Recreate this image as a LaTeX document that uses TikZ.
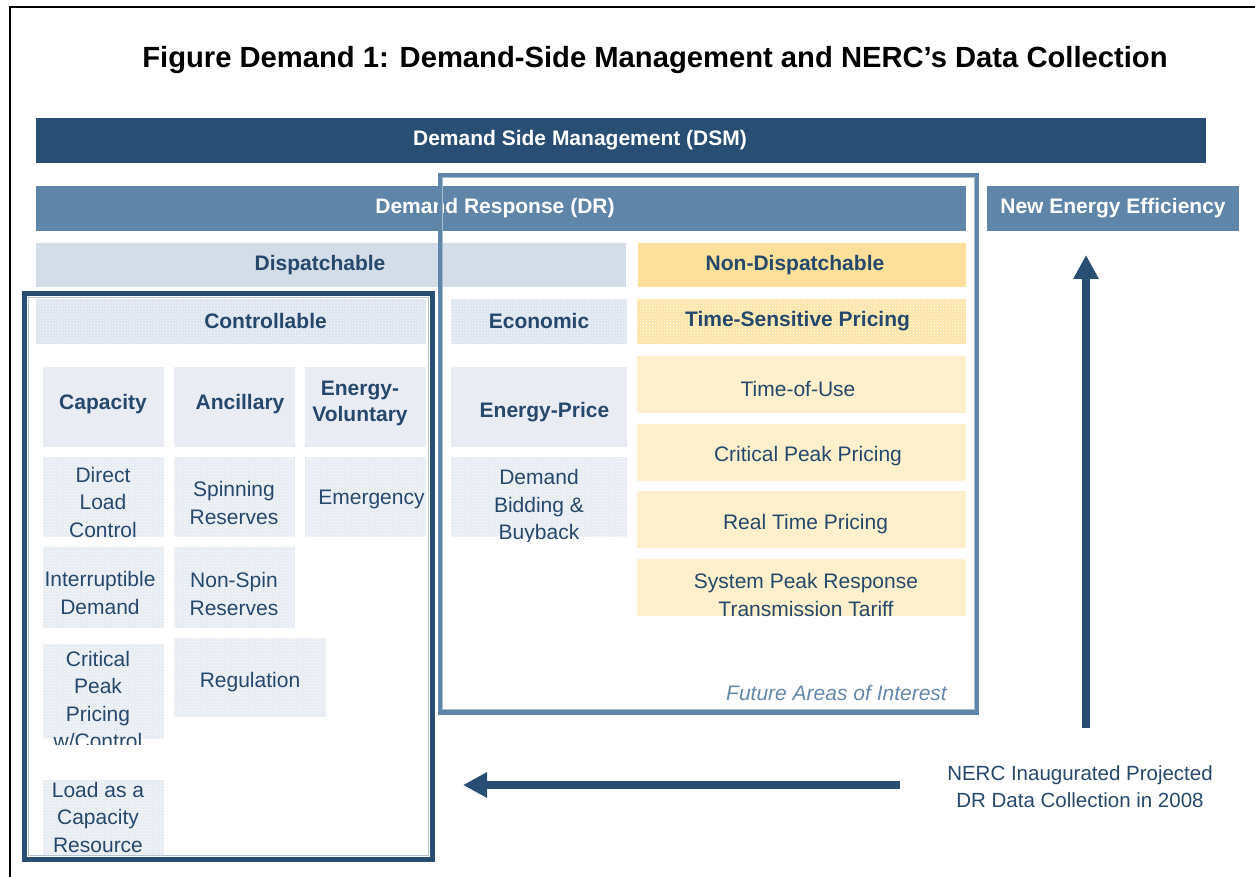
\documentclass[tikz,border=0pt]{standalone}
\usepackage{fontspec}
\setmainfont{Liberation Sans}
\usetikzlibrary{arrows.meta,patterns}
\definecolor{dsmblue}{RGB}{40,78,116}
\definecolor{drblue}{RGB}{95,133,168}
\definecolor{dispgray}{RGB}{211,221,232}
\definecolor{ctrlgray}{RGB}{220,228,238}
\definecolor{hdrgray}{RGB}{233,237,243}
\definecolor{detgray}{RGB}{231,236,243}
\definecolor{ndyellow}{RGB}{253,224,155}
\definecolor{tspyellow}{RGB}{253,228,166}
\definecolor{itemyellow}{RGB}{254,240,205}
\definecolor{txtblue}{RGB}{38,72,108}
\definecolor{futblue}{RGB}{100,135,170}
\newcommand{\mkbox}[6]{\node[box,#6,minimum width={#4-#2},minimum height={#5-#3}] (#1) at (#2,#3) {};}
\begin{document}
\begin{tikzpicture}[x=1pt,y=-1pt,
  box/.style={inner sep=0pt,outer sep=0pt,anchor=north west,draw=none},
  dotbox/.style={postaction={pattern=crosshatch dots,pattern color=white}},
  txt/.style={text=txtblue,font=\fontsize{21}{27.5}\selectfont,align=center,inner sep=0pt,yshift=-2pt},
  btxt/.style={text=txtblue,font=\fontsize{21}{26}\selectfont\bfseries,align=center,inner sep=0pt,yshift=-2pt},
  wtxt/.style={text=white,font=\fontsize{21}{26}\selectfont\bfseries,align=center,inner sep=0pt,yshift=-2pt},
  arr/.style={draw=dsmblue,line width=8pt,-{Triangle[length=24pt,width=24pt]}},
  frame/.style={box,fill=none}]
\useasboundingbox (0,0) rectangle (1255,877);
\clip (0,0) rectangle (1255,877);
% outer frame
\draw[line width=1.5pt,black] (10,900) -- (10,7) -- (1300,7);
% title
\node[inner sep=0pt,font=\fontsize{29.2}{34}\selectfont\bfseries] (title) at (655,60) {Figure Demand 1: Demand-Side Management and NERC’s Data Collection};
% bars
\mkbox{dsm}{36}{118}{1206}{163}{fill=dsmblue}
\mkbox{dr}{36}{186}{966}{231}{fill=drblue}
\mkbox{nee}{987}{186}{1239}{231}{fill=drblue}
\mkbox{disp}{36}{243}{626}{287}{fill=dispgray}
\mkbox{ndisp}{638}{243}{966}{287}{fill=ndyellow}
\mkbox{ctrl}{36}{299}{426}{344}{fill=ctrlgray,dotbox}
\mkbox{econ}{451}{299}{627}{344}{fill=ctrlgray,dotbox}
\mkbox{tsp}{637}{299}{966}{344}{fill=tspyellow,dotbox}
\mkbox{cap}{43}{367}{164}{447}{fill=hdrgray}
\mkbox{anc}{174}{367}{295}{447}{fill=hdrgray}
\mkbox{envol}{305}{367}{426}{447}{fill=hdrgray}
\mkbox{enpr}{451}{367}{627}{447}{fill=hdrgray}
\mkbox{tou}{637}{356}{966}{413}{fill=itemyellow}
\mkbox{cpp}{637}{424}{966}{481}{fill=itemyellow}
\mkbox{rtp}{637}{491}{966}{548}{fill=itemyellow}
\mkbox{spr}{637}{559}{966}{616}{fill=itemyellow}
\mkbox{dlc}{43}{457}{164}{537}{fill=detgray,dotbox}
\mkbox{spin}{174}{457}{295}{537}{fill=detgray,dotbox}
\mkbox{emer}{305}{457}{426}{537}{fill=detgray,dotbox}
\mkbox{intd}{43}{547}{164}{628}{fill=detgray,dotbox}
\mkbox{nspin}{174}{547}{295}{628}{fill=detgray,dotbox}
\mkbox{cppc}{43}{644}{164}{739}{fill=detgray,dotbox}
\mkbox{reg}{174}{638}{326}{717}{fill=detgray,dotbox}
\mkbox{lacr}{43}{780}{164}{856}{fill=detgray,dotbox}
\mkbox{dbb}{451}{457}{627}{537}{fill=detgray,dotbox}
% texts
\node[wtxt] (t-dsm) at (580,138) {Demand Side Management (DSM)};
\node[wtxt] (t-dr) at (495,206) {Demand Response (DR)};
\node[wtxt] (t-nee) at (1113,206) {New Energy Efficiency};
\node[btxt] (t-disp) at (320,263) {Dispatchable};
\node[btxt] (t-ndisp) at (795,263) {Non-Dispatchable};
\node[btxt] (t-ctrl) at (265.5,319) {Controllable};
\node[btxt] (t-econ) at (539,319) {Economic};
\node[btxt] (t-tsp) at (797.5,319) {Time-Sensitive Pricing};
\node[btxt] (t-cap) at (103,402) {Capacity};
\node[btxt] (t-anc) at (240,402) {Ancillary};
\node[btxt] (t-envol) at (360,401) {Energy-\\Voluntary};
\node[btxt] (t-enpr) at (544.5,410) {Energy-Price};
\node[txt] (t-tou) at (798,387) {Time-of-Use};
\node[txt] (t-cpp) at (808,454) {Critical Peak Pricing};
\node[txt] (t-rtp) at (805.5,522) {Real Time Pricing};
\begin{scope}
\clip (637,559) rectangle (966,617);
\node[txt] (t-spr) at (806,593) {System Peak Response\\Transmission Tariff};
\end{scope}
\node[txt] (t-dlc) at (103,500) {Direct\\Load\\Control};
\node[txt] (t-spin) at (234,501) {Spinning\\Reserves};
\node[txt] (t-emer) at (371.5,497) {Emergency};
\node[txt] (t-intd) at (100,591) {Interruptible\\Demand};
\node[txt] (t-nspin) at (234,592) {Non-Spin\\Reserves};
\begin{scope}
\clip (30,640) rectangle (170,744);
\node[txt] (t-cppc) at (98,698) {Critical\\Peak\\Pricing\\w/Control};
\end{scope}
\node[txt] (t-reg) at (250,680) {Regulation};
\node[txt] (t-lacr) at (98,815) {Load as a\\Capacity\\Resource};
\begin{scope}
\clip (445,450) rectangle (630,541);
\node[txt] (t-dbb) at (539,505) {Demand\\Bidding \&\\Buyback};
\end{scope}
% frames
\mkbox{fut}{440}{175.5}{976.5}{712}{frame,draw=drblue,line width=5pt}
\mkbox{futin}{442.2}{177.7}{974.3}{709.8}{frame,draw=drblue!55,line width=0.8pt}
\mkbox{ctrlframe}{24.5}{293}{432}{859}{frame,draw=dsmblue,line width=5pt}
\mkbox{ctrlin}{28.5}{297}{428}{855}{frame,draw=dsmblue!35,line width=0.8pt}
\node[anchor=east,inner sep=0pt,text=futblue,font=\fontsize{21}{26}\selectfont\itshape,yshift=-2pt] (t-fut) at (947,691) {Future Areas of Interest};
% NERC note and arrows
\node[txt,font=\fontsize{20.5}{27}\selectfont] (nerc) at (1080,784.5) {NERC Inaugurated Projected\\DR Data Collection in 2008};
\coordinate (upS) at (1086,728);
\coordinate (upE) at (1086,255);
\coordinate (lS) at (900,785);
\coordinate (lE) at (463,785);
\draw[arr] (upS) -- (upE);
\draw[arr] (lS) -- (lE);
\end{tikzpicture}
\end{document}
